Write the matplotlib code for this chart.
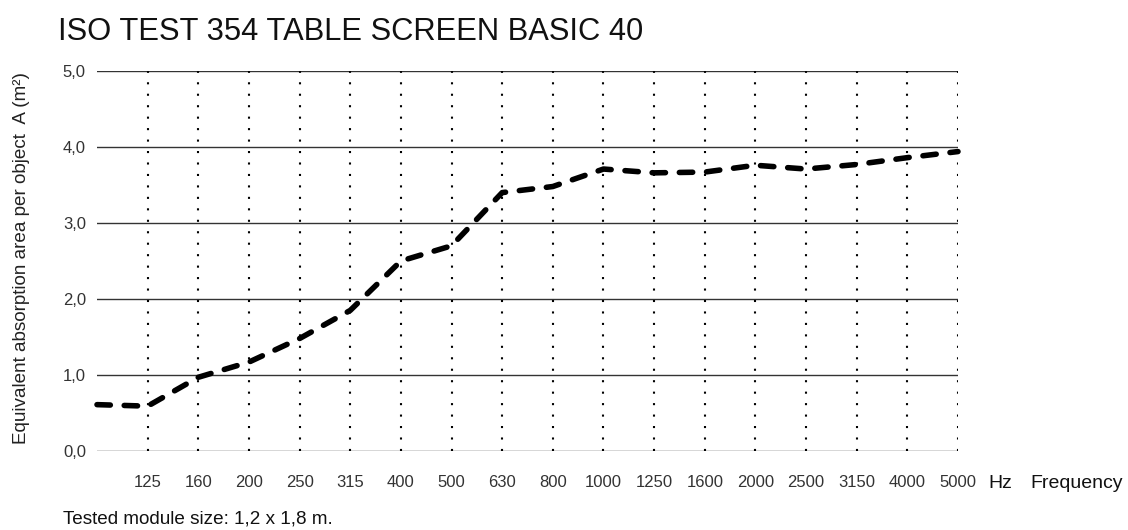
import matplotlib
matplotlib.use("Agg")
import matplotlib.pyplot as plt

plt.rcParams['font.family'] = ['Liberation Sans', 'DejaVu Sans']

# Data
frequencies = ['100', '125', '160', '200', '250', '315', '400', '500', '630', '800',
               '1000', '1250', '1600', '2000', '2500', '3150', '4000', '5000']
tick_labels = ['', '125', '160', '200', '250', '315', '400', '500', '630', '800',
               '1000', '1250', '1600', '2000', '2500', '3150', '4000', '5000']
absorption = [0.61, 0.59, 0.97, 1.17, 1.48, 1.85, 2.50, 2.70, 3.40, 3.48,
              3.71, 3.66, 3.67, 3.76, 3.71, 3.77, 3.86, 3.94]
y_ticks = [0, 1, 2, 3, 4, 5]
y_tick_labels = ['0,0', '1,0', '2,0', '3,0', '4,0', '5,0']

W, H = 1128, 530
fig = plt.figure(figsize=(W / 100, H / 100), dpi=100)
ax = fig.add_axes([97 / W, 1 - 451 / H, (958 - 97) / W, (451 - 71) / H])

x = list(range(len(frequencies)))

# horizontal grid lines
for yv in y_ticks:
    ax.axhline(yv, color='#333333', lw=1.0, zorder=1)

# vertical dotted lines
for xi in x[1:]:
    ax.axvline(xi, color='black', lw=1.5, linestyle=(0, (1, 4.5)),
               dash_capstyle='butt', zorder=2)

ax.plot(x, absorption, color='black', lw=4.0, linestyle=(0, (2.4, 2.5)),
        dash_capstyle='round', solid_capstyle='round', zorder=3, clip_on=False)

ax.set_xlim(0, len(frequencies) - 1)
ax.set_ylim(0, 5)
ax.set_xticks(x)
ax.set_xticklabels(tick_labels, fontsize=12, color='#333333')
ax.set_yticks(y_ticks)
ax.set_yticklabels(y_tick_labels, fontsize=12, color='#333333')
ax.tick_params(axis='both', length=0)
ax.tick_params(axis='x', pad=17.5)
ax.tick_params(axis='y', pad=8)
for s in ax.spines.values():
    s.set_visible(False)

fig.text(22 / W, 1 - 258 / H, 'Equivalent absorption area per object  A (m²)',
         fontsize=13.6, rotation=90, va='center', ha='center', color='#222222')

fig.text(58 / W, 1 - 40 / H, 'ISO TEST 354 TABLE SCREEN BASIC 40', fontsize=22.2,
         va='baseline', ha='left', color='#111111')
fig.text(988 / W, 1 - 488 / H, 'Hz', fontsize=14, va='baseline', ha='left', color='#111111')
fig.text(1030 / W, 1 - 488 / H, 'Frequency', fontsize=14, va='baseline', ha='left', color='#111111')
fig.text(63 / W, 1 - 524 / H, 'Tested module size: 1,2 x 1,8 m.', fontsize=13.6,
         va='baseline', ha='left', color='#111111')

fig.savefig('out.png', dpi=100)
